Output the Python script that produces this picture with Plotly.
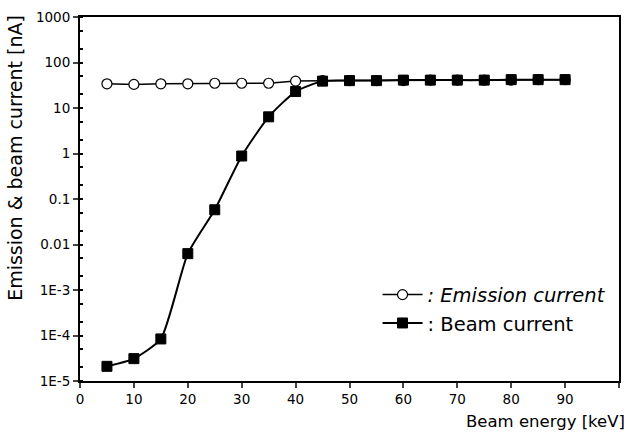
import plotly.graph_objects as go

energy = [5, 10, 15, 20, 25, 30, 35, 40, 45, 50, 55, 60, 65, 70, 75, 80, 85, 90]
emission_current = [34, 33, 34, 34, 35, 35, 35, 39, 40, 40, 40, 40, 41, 41, 41, 41, 42, 42]
beam_current = [2.1e-5, 3.1e-5, 8.4e-5, 6.3e-3, 0.058, 0.88, 6.4, 23, 39, 40, 40, 41, 41, 41, 41, 42, 42, 42]

y_tickvals = [1e-5, 1e-4, 1e-3, 0.01, 0.1, 1, 10, 100, 1000]
y_ticktext = ["1E-5", "1E-4", "1E-3", "0.01", "0.1", "1", "10", "100", "1000"]
x_tickvals = [0, 10, 20, 30, 40, 50, 60, 70, 80, 90, 100]

font_family = "DejaVu Sans, Liberation Sans, Arial, sans-serif"

fig = go.Figure()
fig.add_trace(go.Scatter(
    x=energy, y=emission_current, mode="lines+markers",
    name="<i>: Emission current</i>",
    line=dict(color="black", width=1.5),
    marker=dict(symbol="circle", size=10, color="white", line=dict(color="black", width=1.2)),
))
fig.add_trace(go.Scatter(
    x=energy, y=beam_current, mode="lines+markers",
    name=": Beam current",
    line=dict(color="black", width=2, shape="spline", smoothing=0.55),
    marker=dict(symbol="square", size=10, color="black", line=dict(color="black", width=1)),
))

fig.update_layout(
    width=630, height=436,
    margin=dict(l=80, r=11, t=9, b=55),
    paper_bgcolor="white", plot_bgcolor="white",
    font=dict(family=font_family, size=13.5, color="black"),
    showlegend=True,
    legend=dict(x=0.552, y=0.29, xanchor="left", yanchor="top",
                bgcolor="rgba(0,0,0,0)", font=dict(size=19.5, family=font_family),
                tracegroupgap=0, itemwidth=40),
    xaxis=dict(range=[0, 100], tickvals=x_tickvals, ticks="outside", ticklen=5,
               tickwidth=1.5, showline=True, linecolor="black", linewidth=2,
               mirror=True, showgrid=False, zeroline=False,
               tickfont=dict(size=13.5)),
    yaxis=dict(type="log", range=[-5, 3], tickvals=y_tickvals, ticktext=y_ticktext,
               ticks="outside", ticklen=5, tickwidth=1.5, showline=True,
               linecolor="black", linewidth=2, mirror=True, showgrid=False,
               zeroline=False, tickfont=dict(size=13.5),
               minor=dict(ticks="inside", ticklen=3, tickcolor="black", showgrid=False)),
    annotations=[
        dict(text="Beam energy [keV]", xref="paper", yref="paper", x=1.015, y=-0.11,
             xanchor="right", yanchor="middle", showarrow=False, font=dict(size=16.5)),
        dict(text="Emission & beam current [nA]", xref="paper", yref="paper",
             x=-0.122, y=1.012, xanchor="center", yanchor="top", textangle=-90,
             showarrow=False, font=dict(size=19)),
    ],
)

fig.write_html("out.html")
